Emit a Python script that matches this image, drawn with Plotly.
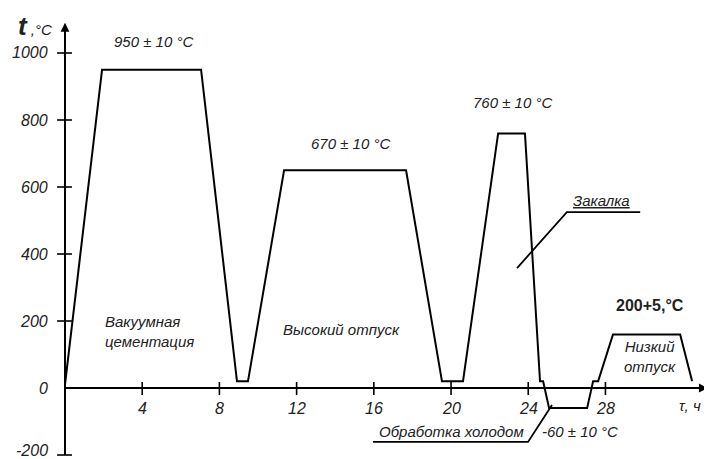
import plotly.graph_objects as go

# Heat-treatment profile (time, h ; temperature, °C)
time_h = [0, 1.92, 7.05, 8.91, 9.48, 11.35, 17.67, 19.53, 20.62, 22.44, 23.83,
          24.61, 24.77, 25.08, 27.05, 27.36, 27.62, 28.39, 31.87, 32.49]
temp_c = [10, 950, 950, 20, 20, 650, 650, 20, 20, 760, 760,
          20, 20, -60, -60, 20, 20, 160, 160, 20]

x_ticks = [4, 8, 12, 16, 20, 24, 28]
x_tick_labels = ["4", "8", "12", "16", "20", "24", "28"]
y_ticks = [-200, 0, 200, 400, 600, 800, 1000]
y_tick_labels = ["-200", "0", "200", "400", "600", "800", "1000"]

# page has an 8px body margin; figure is sized to fit the remaining area
X_MIN, X_MAX = -2.953, 33.52
Y_MIN, Y_MAX = -211.9, 1134.3
X_AXIS_END = 33.3
Y_AXIS_END = 1090

FONT = "Liberation Sans Narrow, Arial Narrow, Liberation Sans, sans-serif"

fig = go.Figure()

# axes lines
fig.add_trace(go.Scatter(x=[0, X_AXIS_END - 0.3], y=[0, 0], mode="lines",
                         line=dict(color="black", width=2), hoverinfo="skip"))
fig.add_trace(go.Scatter(x=[0, 0], y=[-200, Y_AXIS_END - 10], mode="lines",
                         line=dict(color="black", width=2), hoverinfo="skip"))

# tick marks
xt_x, xt_y = [], []
for t in x_ticks:
    xt_x += [t, t, None]
    xt_y += [18, -21, None]
yt_x, yt_y = [], []
for v in y_ticks:
    if v == 0:
        continue
    yt_x += [-0.41, 0.36, None]
    yt_y += [v, v, None]
fig.add_trace(go.Scatter(x=xt_x + yt_x, y=xt_y + yt_y, mode="lines",
                         line=dict(color="black", width=1.6), hoverinfo="skip"))

# profile
fig.add_trace(go.Scatter(x=time_h, y=temp_c, mode="lines",
                         line=dict(color="black", width=2), hoverinfo="skip"))

# leader lines
fig.add_trace(go.Scatter(x=[23.42, 26.0, 29.8], y=[358, 525, 525], mode="lines",
                         line=dict(color="black", width=1.8), hoverinfo="skip"))
fig.add_trace(go.Scatter(x=[15.96, 23.99, 25.23], y=[-161, -161, -51], mode="lines",
                         line=dict(color="black", width=1.8), hoverinfo="skip"))

tick_font = dict(family=FONT, size=16, color="#222", style="italic")
ann_font = dict(family=FONT, size=15, color="#222", style="italic")

annotations = []
for t, lab in zip(x_ticks, x_tick_labels):
    annotations.append(dict(x=t, y=0, text=lab, showarrow=False, yshift=-20,
                            xanchor="center", yanchor="middle", font=tick_font))
for v, lab in zip(y_ticks, y_tick_labels):
    annotations.append(dict(x=0, y=v, text=lab, showarrow=False, xshift=-15,
                            yshift=5 if v == -200 else 0,
                            xanchor="right", yanchor="middle", font=tick_font))

# axis arrows
annotations.append(dict(x=X_AXIS_END, y=0, ax=X_AXIS_END - 1.2, ay=0, axref="x", ayref="y",
                        xref="x", yref="y", showarrow=True, arrowhead=2, arrowsize=1.1,
                        arrowwidth=1.6, arrowcolor="black", text=""))
annotations.append(dict(x=0, y=Y_AXIS_END, ax=0, ay=Y_AXIS_END - 60, axref="x", ayref="y",
                        xref="x", yref="y", showarrow=True, arrowhead=2, arrowsize=1.1,
                        arrowwidth=1.6, arrowcolor="black", text=""))

labels = [
    (-1.55, 1080, "<b><span style='font-size:26px'>t</span></b> ,°C", "center"),
    (4.6, 1033, "950 ± 10 °C", "center"),
    (14.77, 731, "670 ± 10 °C", "center"),
    (23.16, 851, "760 ± 10 °C", "center"),
    (27.8, 560, "<u>Закалка</u>", "center"),
    (4.4, 170, "Вакуумная<br>цементация", "left"),
    (14.3, 175, "Высокий отпуск", "center"),
    (30.3, 245, "<b>200+5,°C</b>", "center"),
    (30.3, 94, "Низкий<br>отпуск", "center"),
    (32.4, -52, "τ, ч", "center"),
    (20.0, -131, "Обработка холодом", "center"),
    (26.7, -131, "-60 ± 10 °C", "center"),
]
for x, y, txt, al in labels:
    f = dict(ann_font)
    if "200+5" in txt:
        f["size"] = 16
        f["style"] = "normal"
    annotations.append(dict(x=x, y=y, text=txt, showarrow=False, xanchor="center",
                            yanchor="middle", align=al, font=f))

fig.update_layout(
    width=704, height=451,
    margin=dict(l=0, r=0, t=0, b=0),
    paper_bgcolor="white", plot_bgcolor="white",
    showlegend=False,
    xaxis=dict(range=[X_MIN, X_MAX], visible=False, fixedrange=True),
    yaxis=dict(range=[Y_MIN, Y_MAX], visible=False, fixedrange=True),
    annotations=annotations,
)

fig.write_html("out.html")
